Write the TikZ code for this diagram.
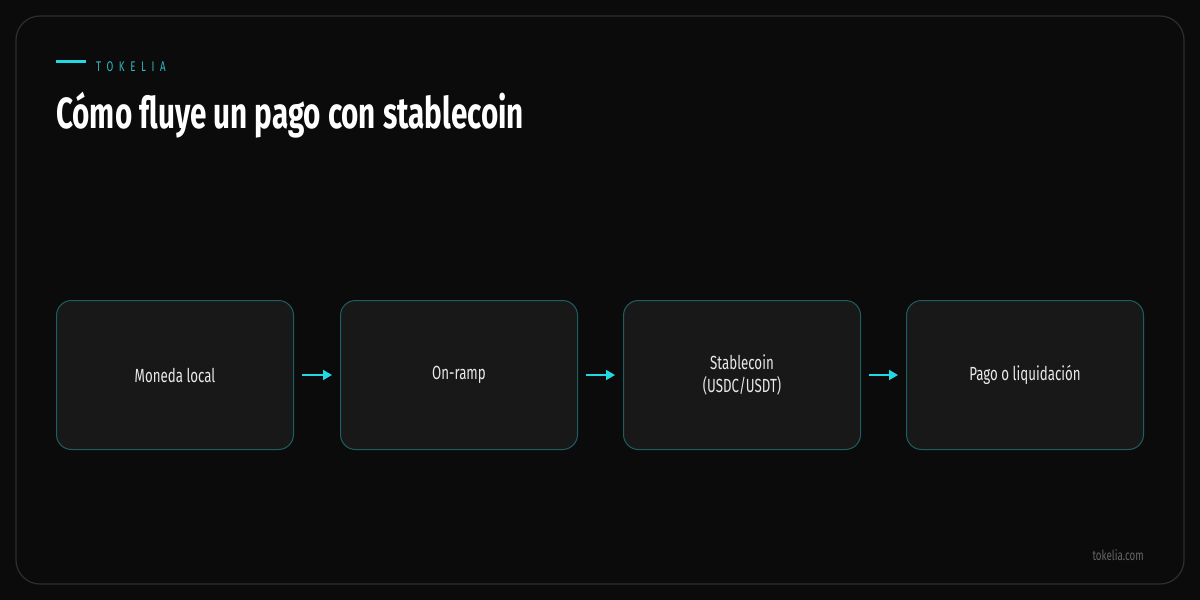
\documentclass[tikz,border=0pt]{standalone}
\usepackage{fontspec}
\setmainfont[FakeStretch=0.7]{Fira Sans}
\newfontfamily\titlefont[FakeStretch=0.68]{Fira Sans Bold}
\usetikzlibrary{arrows.meta}
\definecolor{bg}{HTML}{0B0B0B}
\definecolor{frame}{HTML}{2E2E2E}
\definecolor{boxfill}{HTML}{181818}
\definecolor{boxline}{HTML}{1E5E60}
\definecolor{cyanacc}{HTML}{22D8E2}
\definecolor{brand}{HTML}{2FB8C0}
\definecolor{boxtext}{HTML}{E8E8E8}
\definecolor{foot}{HTML}{666666}
\tikzset{
  stepbox/.style={draw=boxline, line width=1pt, fill=boxfill, rounded corners=15pt,
    minimum width=237pt, minimum height=149pt, inner sep=0pt, text=boxtext,
    font=\fontsize{19}{23}\selectfont, align=center, anchor=north west},
  flow/.style={draw=cyanacc, line width=1.8pt, -{Triangle[length=9pt,width=10pt]}}
}
\begin{document}
\begin{tikzpicture}[x=1pt,y=-1pt]
\fill[bg] (0,0) rectangle (1200,600);
\useasboundingbox (0,0) rectangle (1200,600);
\draw[frame, line width=1.2pt, rounded corners=24pt] (16,16) rectangle (1184,584);
\draw[cyanacc, line width=3pt] (56,61) -- (86,61);
\node[anchor=base west, inner sep=0pt, text=brand, font=\fontsize{14}{14}\selectfont\addfontfeature{LetterSpace=40}] (brand) at (96,71) {TOKELIA};
\node[anchor=base west, inner sep=0pt, text=white, font=\titlefont\fontsize{43.6}{43.6}\selectfont] (title) at (56,128) {Cómo fluye un pago con stablecoin};
\node[stepbox] (b1) at (56,300) {Moneda local};
\node[stepbox] (b2) at (340,300) {On-ramp};
\node[stepbox] (b3) at (623,300) {Stablecoin\\(USDC/USDT)};
\node[stepbox] (b4) at (906,300) {Pago o liquidación};
\draw[flow] ([xshift=8pt]b1.east) -- ([xshift=-8pt]b2.west);
\draw[flow] ([xshift=8pt]b2.east) -- ([xshift=-8pt]b3.west);
\draw[flow] ([xshift=8pt]b3.east) -- ([xshift=-8pt]b4.west);
\node[anchor=base east, inner sep=0pt, text=foot, font=\fontsize{14}{14}\selectfont] (site) at (1144,560) {tokelia.com};
\end{tikzpicture}
\end{document}
